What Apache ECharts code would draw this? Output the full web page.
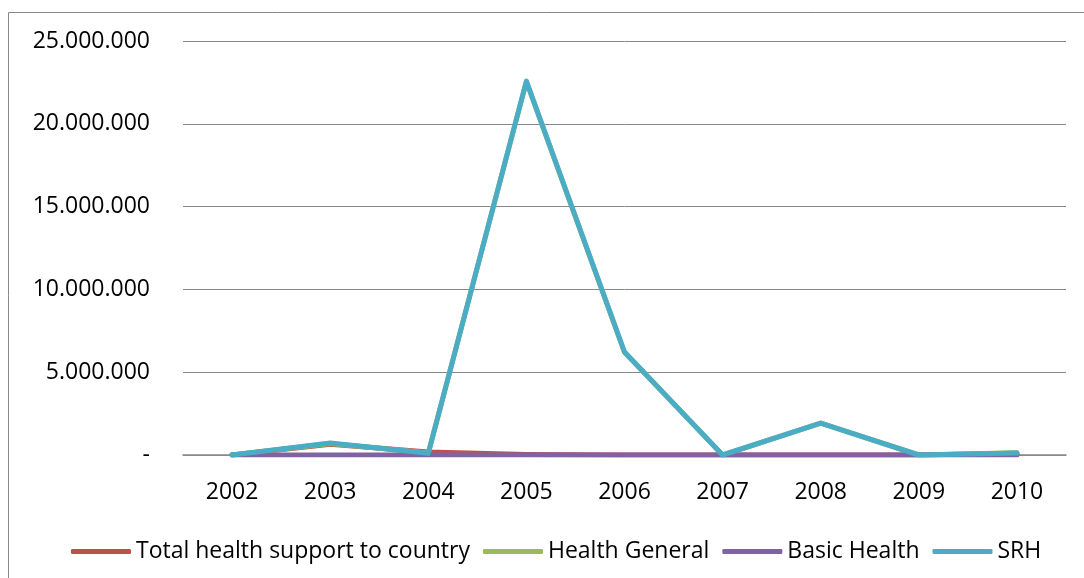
<!DOCTYPE html>
<html><head><meta charset="utf-8">
<script src="https://cdn.jsdelivr.net/npm/echarts@6/dist/echarts.min.js"></script>
<style>html,body{margin:0;padding:0;background:#fff}#c{width:1084px;height:578px}</style>
</head><body><div id="c"></div>
<script>
const years = ['2002','2003','2004','2005','2006','2007','2008','2009','2010'];
const totalHealth = [0, 650000, 180000, 30000, 0, 0, 0, 0, 100000];
const healthGeneral = [0, 700000, 120000, 22550000, 6200000, 0, 1930000, 0, 130000];
const basicHealth = [0, 0, 0, 0, 0, 0, 0, 0, 0];
const srh = [0, 720000, 100000, 22580000, 6220000, 0, 1930000, 0, 120000];
const yTicks = {min: 0, max: 25000000, interval: 5000000};

function fmt(v){ if(v===0) return '-'; return String(v).replace(/\B(?=(\d{3})+(?!\d))/g,'.'); }
const font = 'Open Sans';
const chart = echarts.init(document.getElementById('c'), null, {renderer:'canvas'});
function mk(name, data, color){
  return {name, type:'line', data, symbol:'none', lineStyle:{width:5,color, cap:'round', join:'round'}, itemStyle:{color}, animation:false};
}
chart.setOption({
  animation:false,
  graphic:[{type:'rect', shape:{x:8.5,y:12.5,width:1090,height:580}, style:{fill:null, stroke:'#888', lineWidth:1}, silent:true, z:-1}],
  grid:{left:183, right:18, top:41, bottom:123, containLabel:false},
  xAxis:{type:'category', data:years, boundaryGap:true,
    axisLine:{show:true, lineStyle:{color:'#888', width:1.5}}, axisTick:{show:false},
    axisLabel:{color:'#000', fontFamily:font, fontSize:23, margin:26}},
  yAxis:{type:'value', min:yTicks.min, max:yTicks.max, interval:yTicks.interval,
    axisLine:{show:false}, axisTick:{show:false},
    splitLine:{lineStyle:{color:'#888', width:1}},
    axisLabel:{color:'#000', fontFamily:font, fontSize:23, margin:33, formatter:fmt}},
  legend:{bottom:10, left:66, itemWidth:60, itemHeight:5, icon:'roundRect', itemGap:13,
    textStyle:{color:'#000', fontFamily:font, fontSize:23}},
  series:[mk('Total health support to country', totalHealth, '#C0504D'),
          mk('Health General', healthGeneral, '#9BBB59'),
          mk('Basic Health', basicHealth, '#8064A2'),
          mk('SRH', srh, '#4BACC6')]
});
</script></body></html>
